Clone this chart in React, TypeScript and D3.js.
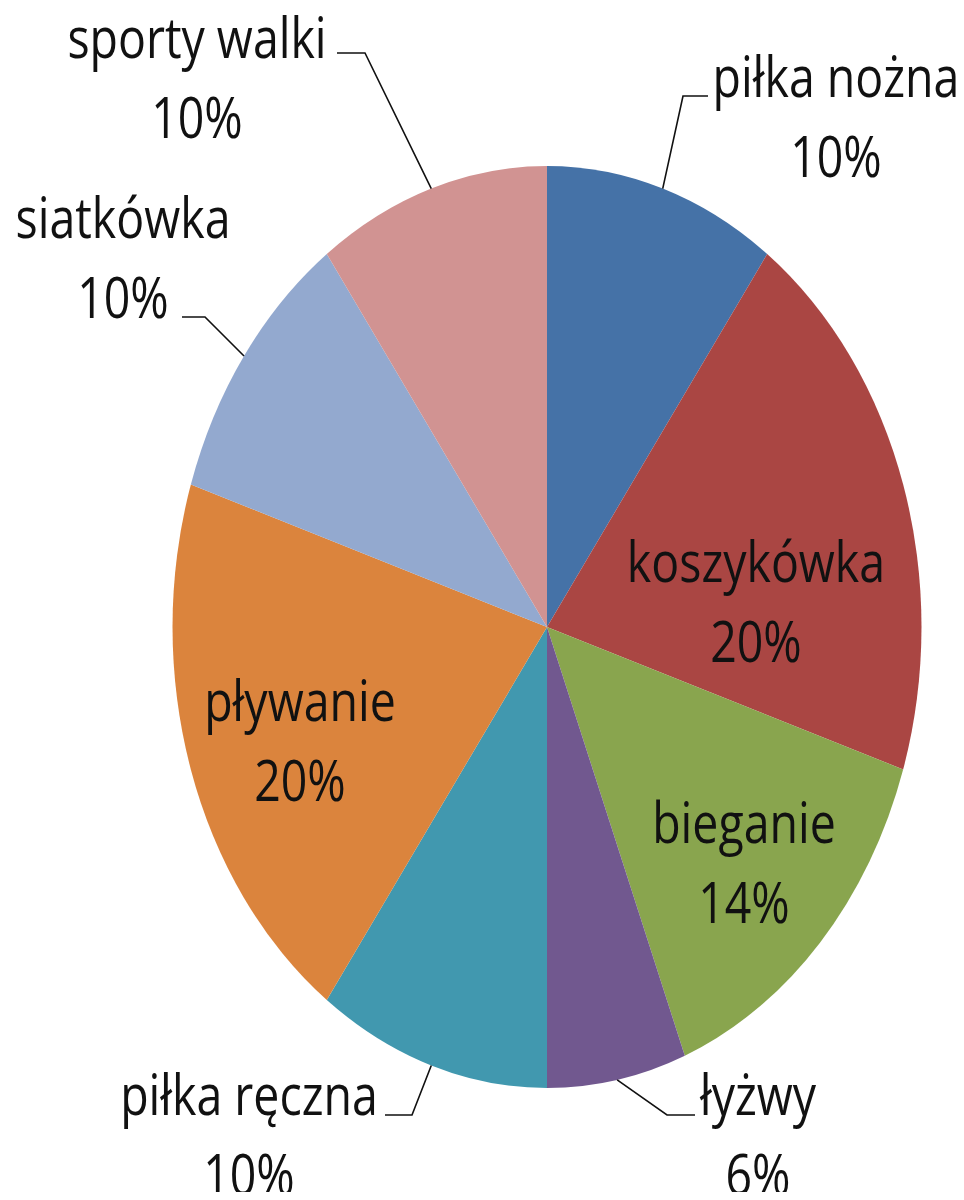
import * as d3 from "d3";
import React, { useEffect, useRef } from "react";

// slices, clockwise from 12 o'clock
const sports = ["piłka nożna", "koszykówka", "bieganie", "łyżwy", "piłka ręczna", "pływanie", "siatkówka", "sporty walki"];
const shares = [10, 20, 14, 6, 10, 20, 10, 10];
const colors = ["#4572A7", "#AA4643", "#89A54E", "#71588F", "#4198AF", "#DB843D", "#93A9CF", "#D19392"];

// label placement (Excel put them by hand more or less)
const labelX = [836, 756, 744, 758, 249, 300, 123, 197];
const labelY = [97, 582, 843, 1115, 1115, 721, 238, 58];
// leader lines: elbow + end of the horizontal tick, null = label inside slice
const elbows: ([number, number, number] | null)[] = [
  [683, 96, 708], null, null, [667, 1115, 695], [412, 1115, 385], null, [205, 317, 182], [365, 53, 337],
];

export default function App() {
  const ref = useRef<SVGSVGElement>(null);

  useEffect(() => {
    const width = 964;
    const height = 1200;
    const cx = 547;
    const cy = 627;
    const rx = 374.5;
    const ry = 461;
    const stretch = ry / rx;

    const svg = d3.select(ref.current);
    svg.selectAll("*").remove();

    const data = sports.map((name, i) => ({ name, value: shares[i], i }));
    const pie = d3.pie<any>().sort(null).value(d => d.value);
    const arcs = pie(data);
    const arc = d3.arc<any>().innerRadius(0).outerRadius(1);

    svg.append("g")
        .attr("transform", `translate(${cx},${cy}) scale(${rx},${ry})`)
        .selectAll("path")
        .data(arcs)
        .join("path")
        .attr("d", arc)
        .attr("fill", d => colors[d.data.i]);

    // point on the ellipse edge at an angle (0 = top, clockwise)
    const edge = (a: number): [number, number] => [cx + rx * Math.sin(a), cy - ry * Math.cos(a)];

    const lines = svg.append("g").attr("fill", "none").attr("stroke", "#111").attr("stroke-width", 1.6);
    arcs.forEach(d => {
      const e = elbows[d.data.i];
      if (!e) return;
      const mid = (d.startAngle + d.endAngle) / 2;
      const p = edge(mid);
      lines.append("polyline")
          .attr("points", [p, [e[0], e[1]], [e[2], e[1]]].map(q => q.join(",")).join(" "));
    });

    const labels = svg.append("g")
        .attr("font-family", "'Open Sans', 'Liberation Sans', sans-serif")
        .attr("font-size", 46.5)
        .attr("fill", "#111")
        .attr("text-anchor", "middle");

    data.forEach(d => {
      const g = labels.append("g")
          .attr("transform", `translate(${labelX[d.i]},${labelY[d.i]}) scale(1,${stretch})`);
      g.append("text").attr("x", 0).attr("y", 0).text(d.name);
      g.append("text").attr("x", 0).attr("y", 80 / stretch).text(`${d.value}%`);
    });

    svg.attr("width", width).attr("height", height);
  }, []);

  return <svg ref={ref} width={964} height={1200} style={{ display: "block", margin: -8 }} />;
}
